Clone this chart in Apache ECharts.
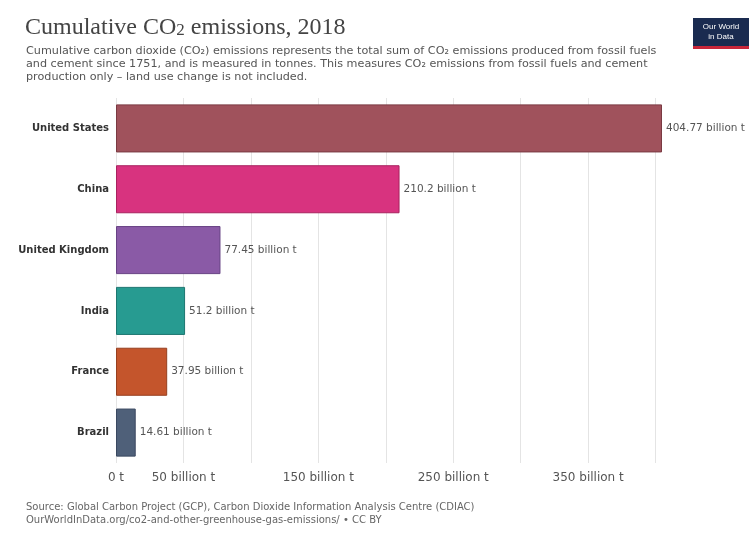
<!DOCTYPE html>
<html>
<head>
<meta charset="utf-8">
<style>
  html, body { margin: 0; padding: 0; background: #fff; }
  #chart { width: 756px; height: 533px; }
</style>
<script src="https://cdn.jsdelivr.net/npm/echarts@6/dist/echarts.min.js"></script>
</head>
<body>
<div id="chart"></div>
<script>
// Cumulative emissions by country, in billion tonnes
const countries = ['United States', 'China', 'United Kingdom', 'India', 'France', 'Brazil'];
const emissions = [404.77, 210.2, 77.45, 51.2, 37.95, 14.61];
const barColors = ['#a0525c', '#d8337f', '#8a5aa6', '#279b91', '#c4552c', '#4f6079'];
const borderColors = ['#7a3a42', '#a8225f', '#674284', '#1d7670', '#963f1f', '#3a4860'];
const tickLabels = { 0: '0 t', 50: '50 billion t', 150: '150 billion t', 250: '250 billion t', 350: '350 billion t' };

const SANS = 'DejaVu Sans, Verdana, sans-serif';

const chart = echarts.init(document.getElementById('chart'), null, { renderer: 'canvas' });

const option = {
  backgroundColor: '#ffffff',
  animation: false,
  title: [
    {
      text: 'Cumulative CO{sub|2} emissions, 2018',
      left: 20, top: 11,
      textStyle: {
        fontFamily: 'Liberation Serif, DejaVu Serif, serif', fontSize: 24, fontWeight: 'normal', color: '#444',
        rich: { sub: { fontFamily: 'Liberation Serif, DejaVu Serif, serif', fontSize: 17, color: '#444', padding: [6, 0, 0, 0] } }
      }
    },
    {
      text: 'Cumulative carbon dioxide (CO\u2082) emissions represents the total sum of CO\u2082 emissions produced from fossil fuels\nand cement since 1751, and is measured in tonnes. This measures CO\u2082 emissions from fossil fuels and cement\nproduction only \u2013 land use change is not included.',
      left: 21, top: 40,
      textStyle: { fontFamily: SANS, fontSize: 11.2, fontWeight: 'normal', color: '#555', lineHeight: 13 }
    },
    {
      text: 'Source: Global Carbon Project (GCP), Carbon Dioxide Information Analysis Centre (CDIAC)\nOurWorldInData.org/co2-and-other-greenhouse-gas-emissions/ \u2022 CC BY',
      left: 21, top: 496,
      textStyle: { fontFamily: SANS, fontSize: 10, fontWeight: 'normal', color: '#666', lineHeight: 13 }
    }
  ],
  graphic: [
    {
      type: 'group', left: 693, top: 18,
      children: [
        { type: 'rect', shape: { x: 0, y: 0, width: 56, height: 31 }, style: { fill: '#1a2b50' } },
        { type: 'rect', shape: { x: 0, y: 28, width: 56, height: 3 }, style: { fill: '#c8263a' } },
        { type: 'text', style: { x: 28, y: 4, text: 'Our World\nin Data', fill: '#fff', font: '8px Liberation Sans, Arial, sans-serif', align: 'center', lineHeight: 10 } }
      ]
    }
  ],
  grid: { left: 116, right: 94, top: 98, bottom: 70, containLabel: false },
  xAxis: {
    type: 'value',
    min: 0, max: 404.77, interval: 50,
    axisLine: { show: false },
    axisTick: { show: false },
    splitLine: { show: true, showMaxLine: false, lineStyle: { color: '#e4e4e4', width: 1 } },
    axisLabel: {
      color: '#555', fontSize: 12, fontFamily: SANS, margin: 9,
      formatter: v => (tickLabels[v] !== undefined ? tickLabels[v] : ''),
      showMaxLabel: false
    }
  },
  yAxis: {
    type: 'category',
    data: countries,
    inverse: true,
    axisLine: { show: false },
    axisTick: { show: false },
    axisLabel: { color: '#333', fontSize: 10, fontWeight: 'bold', fontFamily: SANS, margin: 7 }
  },
  series: [
    {
      type: 'bar',
      data: emissions.map((v, i) => ({
        value: v,
        itemStyle: { color: barColors[i], borderColor: borderColors[i], borderWidth: 1 }
      })),
      barCategoryGap: '21%',
      label: {
        show: true, position: 'right', distance: 4,
        color: '#555', fontSize: 10.5, fontFamily: SANS,
        formatter: p => p.value + ' billion t'
      }
    }
  ]
};

chart.setOption(option);
</script>
</body>
</html>
